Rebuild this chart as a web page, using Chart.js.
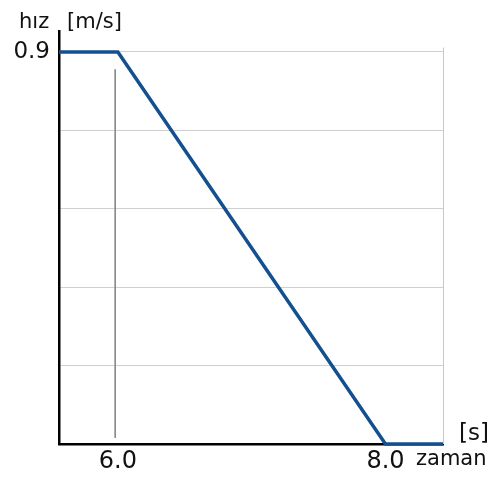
<!DOCTYPE html>
<html>
<head>
<meta charset="utf-8">
<script src="https://cdn.jsdelivr.net/npm/chart.js@4/dist/chart.umd.min.js"></script>
<style>
  html, body { margin: 0; padding: 0; background: #fff; }
  #wrap { width: 502px; height: 477px; position: relative; }
</style>
</head>
<body>
<div id="wrap"><canvas id="speed-chart"></canvas></div>
<script>
  // zaman (s) / hız (m/s)
  const timeValues = [5.56, 6.0, 8.0, 8.43];
  const speedValues = [0.9, 0.9, 0, 0];
  // ince dikey çizgi (t ~ 6.0)
  const markerTime = [5.98, 5.98];
  const markerSpeed = [0.86, 0.014];
  const gridSpeeds = [0, 0.18, 0.36, 0.54, 0.72, 0.9];
  const xTicks = [6.0, 8.0];
  const yTicks = [0.9];

  const FONT = "'DejaVu Sans', Verdana, sans-serif";

  const labelsPlugin = {
    id: "axisLabels",
    afterDraw(chart) {
      const c = chart.ctx;
      const area = chart.chartArea;
      const y = chart.scales.y;
      // sağ kenar çizgisi
      c.save();
      c.strokeStyle = "#c8c8c8";
      c.lineWidth = 1;
      c.beginPath();
      c.moveTo(area.right + 0.5, y.getPixelForValue(0.91));
      c.lineTo(area.right + 0.5, area.bottom);
      c.stroke();

      c.fillStyle = "#111";
      c.textBaseline = "alphabetic";
      c.textAlign = "left";
      c.font = "21px " + FONT;
      c.fillText("hız", 19, 28);
      c.fillText("[m/s]", 67, 28);
      c.fillText("zaman", 416, 465);
      c.font = "23px " + FONT;
      c.fillText("[s]", 459, 440);
      c.restore();
    },
  };

  const ctx = document.getElementById("speed-chart").getContext("2d");
  const speedChart = new Chart(ctx, {
    type: "line",
    data: {
      datasets: [
        {
          data: markerTime.map((t, i) => ({ x: t, y: markerSpeed[i] })),
          borderColor: "#8a8a8a",
          borderWidth: 1,
          pointRadius: 0,
        },
        {
          data: timeValues.map((t, i) => ({ x: t, y: speedValues[i] })),
          borderColor: "#14508f",
          borderWidth: 3.5,
          pointRadius: 0,
          clip: 4,
        },
      ],
    },
    options: {
      responsive: true,
      maintainAspectRatio: false,
      animation: false,
      layout: { padding: { top: 31, right: 59, left: 0, bottom: 0 } },
      plugins: { legend: { display: false }, tooltip: { enabled: false } },
      scales: {
        x: {
          type: "linear",
          min: timeValues[0],
          max: timeValues[timeValues.length - 1],
          afterBuildTicks: (s) => { s.ticks = xTicks.map((v) => ({ value: v })); },
          afterFit: (s) => { s.height = 33; },
          grid: { display: false, drawTicks: false },
          border: { color: "#000", width: 2.5 },
          ticks: {
            color: "#111",
            padding: 3,
            font: { family: FONT, size: 24 },
            callback: (v) => Number(v).toFixed(1),
          },
        },
        y: {
          min: 0,
          max: 0.948,
          afterBuildTicks: (s) => { s.ticks = gridSpeeds.map((v) => ({ value: v })); },
          afterFit: (s) => { s.width = 59; },
          grid: { color: "#cfcfcf", lineWidth: 1, drawTicks: false },
          border: { color: "#000", width: 2.5 },
          ticks: {
            color: "#111",
            padding: 9,
            font: { family: FONT, size: 23 },
            callback: (v) => (yTicks.includes(v) ? v.toFixed(1) : ""),
          },
        },
      },
    },
    plugins: [labelsPlugin],
  });
</script>
</body>
</html>
